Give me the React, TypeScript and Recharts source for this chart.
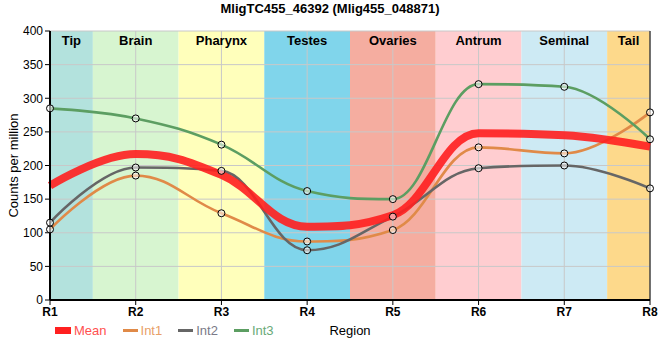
import React from 'react';
import { LineChart, Line, XAxis, YAxis, CartesianGrid, ReferenceArea, ReferenceLine, Legend, Label } from 'recharts';

const regions = ['R1', 'R2', 'R3', 'R4', 'R5', 'R6', 'R7', 'R8'];
const tissues = ['Tip', 'Brain', 'Pharynx', 'Testes', 'Ovaries', 'Antrum', 'Seminal', 'Tail'];
const tissueColors = ['#b3e2dd', '#d7f5d0', '#ffffbb', '#80d5eb', '#f5ada0', '#ffcdd0', '#cdeaf4', '#fdd98b'];

const meanValues = [170, 217, 186, 109, 126, 248, 245, 228];
const int1Values = [105, 185, 129, 87, 104, 227, 218, 279];
const int2Values = [115, 197, 192, 74, 124, 196, 200, 166];
const int3Values = [285, 270, 231, 162, 150, 321, 317, 239];

const yTicks = [0, 50, 100, 150, 200, 250, 300, 350, 400];

const FONT = 'Arial, "Liberation Sans", sans-serif';

const legendItems = [
    { name: 'Mean', line: '#ff2020', text: '#ff5050', rect: true },
    { name: 'Int1', line: '#e08a48', text: '#e8a068', rect: false },
    { name: 'Int2', line: '#666666', text: '#7a7a88', rect: false },
    { name: 'Int3', line: '#5c9e62', text: '#6aaa78', rect: false },
];

// spline with control points kept between neighbours (no false extremes)
function splineCurve(context: any) {
    let pts: number[][] = [];
    return {
        areaStart() {},
        areaEnd() {},
        lineStart() { pts = []; },
        point(x: number, y: number) { pts.push([+x, +y]); },
        lineEnd() {
            const n = pts.length;
            if (!n) return;
            const smoothing = 1.5, denom = smoothing + 1;
            const left: number[][] = [], right: number[][] = [];
            for (let i = 0; i < n; i++) {
                const [px, py] = pts[i];
                if (i === 0 || i === n - 1) {
                    left[i] = [px, py];
                    right[i] = [px, py];
                    continue;
                }
                const [lx, ly] = pts[i - 1];
                const [nx, ny] = pts[i + 1];
                const lcx = (smoothing * px + lx) / denom;
                let lcy = (smoothing * py + ly) / denom;
                const rcx = (smoothing * px + nx) / denom;
                let rcy = (smoothing * py + ny) / denom;
                let corr = 0;
                if (rcx !== lcx) corr = ((rcy - lcy) * (rcx - px)) / (rcx - lcx) + py - rcy;
                lcy += corr;
                rcy += corr;
                if (lcy > ly && lcy > py) {
                    lcy = Math.max(ly, py);
                    rcy = 2 * py - lcy;
                } else if (lcy < ly && lcy < py) {
                    lcy = Math.min(ly, py);
                    rcy = 2 * py - lcy;
                }
                if (rcy > ny && rcy > py) {
                    rcy = Math.max(ny, py);
                    lcy = 2 * py - rcy;
                } else if (rcy < ny && rcy < py) {
                    rcy = Math.min(ny, py);
                    lcy = 2 * py - rcy;
                }
                left[i] = [lcx, lcy];
                right[i] = [rcx, rcy];
            }
            context.moveTo(pts[0][0], pts[0][1]);
            for (let i = 1; i < n; i++) {
                context.bezierCurveTo(right[i - 1][0], right[i - 1][1], left[i][0], left[i][1], pts[i][0], pts[i][1]);
            }
        },
    };
}

function LegendContent() {
    return (
        <div style={{ display: 'flex', alignItems: 'center', fontFamily: FONT, fontSize: 13 }}>
            {legendItems.map(it => (
                <div key={it.name} style={{ display: 'flex', alignItems: 'center', marginRight: 16 }}>
                    {it.rect
                        ? <span style={{ display: 'inline-block', width: 16, height: 7, background: it.line }} />
                        : <span style={{ display: 'inline-block', width: 15, height: 3, background: it.line }} />}
                    <span style={{ color: it.text, marginLeft: 3 }}>{it.name}</span>
                </div>
            ))}
        </div>
    );
}

export default function App() {
    const data = React.useMemo(() => regions.map((r, i) => ({
        x: i + 1,
        region: r,
        mean: meanValues[i],
        int1: int1Values[i],
        int2: int2Values[i],
        int3: int3Values[i],
    })), []);

    const dotStyle = { r: 3.5, stroke: '#000', strokeWidth: 1, fill: '#fff', fillOpacity: 0.55 };

    return (
        <div style={{ position: 'absolute', left: 0, top: 0, width: 660, height: 360, fontFamily: FONT, background: '#fff' }}>
            <div style={{ position: 'absolute', top: 1, left: 0, width: 660, textAlign: 'center', fontWeight: 'bold', fontSize: 13 }}>
                MligTC455_46392 (Mlig455_048871)
            </div>
            <LineChart width={660} height={360} data={data} margin={{ top: 31, right: 10, bottom: 20, left: 0 }}>
                {tissues.map((t, i) => (
                    <ReferenceArea
                        key={t}
                        x1={Math.max(1, i + 0.5)}
                        x2={Math.min(8, i + 1.5)}
                        fill={tissueColors[i]}
                        fillOpacity={1}
                        stroke="none"
                        ifOverflow="hidden"
                        label={{ value: t, position: 'insideTop', fontSize: 13, fontWeight: 'bold', fill: '#000' }}
                    />
                ))}
                <CartesianGrid stroke="#c8c8c8" zIndex={150} />
                <XAxis
                    dataKey="x"
                    type="number"
                    domain={[1, 8]}
                    ticks={[1, 2, 3, 4, 5, 6, 7, 8]}
                    tickFormatter={(v: number) => regions[v - 1]}
                    height={40}
                    stroke="#000"
                    axisLine={{ stroke: '#000', strokeWidth: 2 }}
                    tickLine={{ stroke: '#000' }}
                    tickSize={5}
                    tick={{ fill: '#000', fontSize: 12, fontWeight: 'bold' }}
                >
                    <Label value="Region" position="insideBottom" offset={5} fill="#000" fontSize={13} />
                </XAxis>
                <YAxis
                    domain={[0, 400]}
                    ticks={yTicks}
                    width={50}
                    stroke="#000"
                    axisLine={{ stroke: '#000', strokeWidth: 2 }}
                    tickLine={{ stroke: '#000' }}
                    tickSize={5}
                    tick={{ fill: '#000', fontSize: 12 }}
                >
                    <Label value="Counts per million" angle={-90} position="center" dx={-12} fill="#000" fontSize={13} />
                </YAxis>
                <ReferenceLine x={8} stroke="#000" strokeWidth={1} />
                <Line type={splineCurve as any} dataKey="int1" stroke="#e08a48" strokeWidth={2.6} dot={false} isAnimationActive={false} />
                <Line type={splineCurve as any} dataKey="int2" stroke="#666666" strokeWidth={2.6} dot={false} isAnimationActive={false} />
                <Line type={splineCurve as any} dataKey="int3" stroke="#5c9e62" strokeWidth={2.6} dot={false} isAnimationActive={false} />
                <Line type={splineCurve as any} dataKey="mean" stroke="#ff1f1f" strokeOpacity={0.9} strokeWidth={8} dot={false} isAnimationActive={false} />
                <Line dataKey="int1" stroke="none" dot={dotStyle} activeDot={false} legendType="none" isAnimationActive={false} />
                <Line dataKey="int2" stroke="none" dot={dotStyle} activeDot={false} legendType="none" isAnimationActive={false} />
                <Line dataKey="int3" stroke="none" dot={dotStyle} activeDot={false} legendType="none" isAnimationActive={false} />
                <Legend
                    layout="horizontal"
                    verticalAlign="middle"
                    align="center"
                    content={<LegendContent />}
                    wrapperStyle={{ left: 55, top: 323, width: 'auto', height: 16 }}
                />
            </LineChart>
        </div>
    );
}
